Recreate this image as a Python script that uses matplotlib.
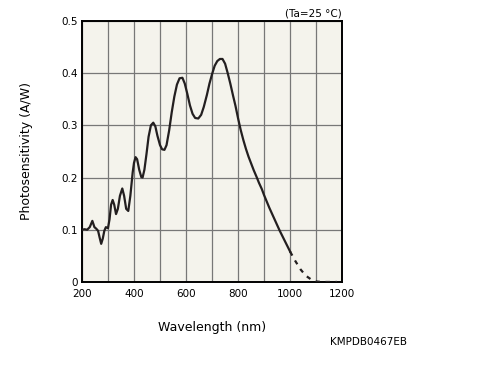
"""
Photosensitivity vs wavelength (Ta=25 C)
"""

import numpy as np
import matplotlib.pyplot as plt

# solid part of the curve (nm, A/W)
wl = [200, 210, 220, 230, 240, 248, 255, 262, 268, 274, 280, 286, 292, 300,
      306, 312, 318, 324, 331, 338, 346, 355, 362, 370, 378, 386, 395, 400,
      406, 412, 420, 428, 433, 440, 448, 456, 465, 474, 482, 490, 500, 508,
      517, 525, 535, 545, 555, 565, 575, 586, 595, 605, 615, 625, 635, 647,
      658, 668, 680, 690, 700, 710, 720, 730, 740, 750, 760, 770, 780, 790,
      800, 810, 820, 830, 840, 850, 860, 872, 880, 891, 900, 910, 920, 930,
      940, 950, 960, 970, 980, 990, 1000]
sens = [0.100, 0.101, 0.100, 0.105, 0.117, 0.105, 0.102, 0.098, 0.085, 0.073,
        0.083, 0.098, 0.105, 0.103, 0.120, 0.148, 0.157, 0.148, 0.130, 0.140,
        0.165, 0.179, 0.165, 0.140, 0.136, 0.165, 0.210, 0.228, 0.239, 0.235,
        0.215, 0.201, 0.200, 0.215, 0.245, 0.278, 0.300, 0.305, 0.298, 0.280,
        0.262, 0.254, 0.253, 0.262, 0.290, 0.325, 0.355, 0.378, 0.390, 0.391,
        0.380, 0.360, 0.338, 0.322, 0.314, 0.313, 0.320, 0.335, 0.358, 0.380,
        0.398, 0.414, 0.423, 0.427, 0.427, 0.418, 0.400, 0.380, 0.358, 0.337,
        0.313, 0.291, 0.272, 0.255, 0.240, 0.227, 0.214, 0.200, 0.190, 0.178,
        0.166, 0.154, 0.142, 0.131, 0.120, 0.109, 0.098, 0.088, 0.078, 0.068,
        0.058]

# dashed tail
wl_tail = [1000, 1020, 1040, 1060, 1080, 1100, 1120, 1150, 1180]
sens_tail = [0.058, 0.040, 0.024, 0.012, 0.005, 0.001, 0.0, 0.0, 0.0]

xticks = [200, 400, 600, 800, 1000, 1200]
yticks = [0, 0.1, 0.2, 0.3, 0.4, 0.5]
ylabels = ["0", "0.1", "0.2", "0.3", "0.4", "0.5"]

fig = plt.figure(figsize=[4.82, 3.79], dpi=100)
ax = fig.add_axes([0.170, 0.256, 0.540, 0.689])
ax.set_facecolor("#f4f3ec")

ax.plot(wl, sens, color="#231f20", lw=1.6, zorder=3)
ax.plot(wl_tail, sens_tail, color="#231f20", lw=1.6, ls=(0, (2, 2.5)), zorder=3)

ax.set_xlim(200, 1200)
ax.set_ylim(0, 0.5)
ax.set_xticks(xticks)
ax.set_yticks(yticks)
ax.set_yticklabels(ylabels)
ax.set_xticks(np.arange(200, 1201, 100), minor=True)
ax.grid(True, which="both", axis="x", color="#777777", lw=0.9)
ax.grid(True, which="major", axis="y", color="#777777", lw=0.9)
ax.tick_params(which="both", length=0, labelsize=7.5, colors="black")
ax.tick_params(axis="x", pad=5)
ax.tick_params(axis="y", pad=3)
for lab in ax.get_yticklabels():
    lab.set_verticalalignment("center_baseline")

for s in ax.spines.values():
    s.set_linewidth(1.4)
    s.set_color("black")

ax.set_xlabel("Wavelength (nm)", fontsize=9, labelpad=16)
ax.set_ylabel("Photosensitivity (A/W)", fontsize=9, labelpad=20)
ax.text(1.0, 1.01, "(Ta=25 °C)", transform=ax.transAxes, ha="right",
        va="bottom", fontsize=7.5)
fig.text(0.765, 0.097, "KMPDB0467EB", ha="center", va="center", fontsize=7.5)

#plt.show()
plt.savefig("out.png")
